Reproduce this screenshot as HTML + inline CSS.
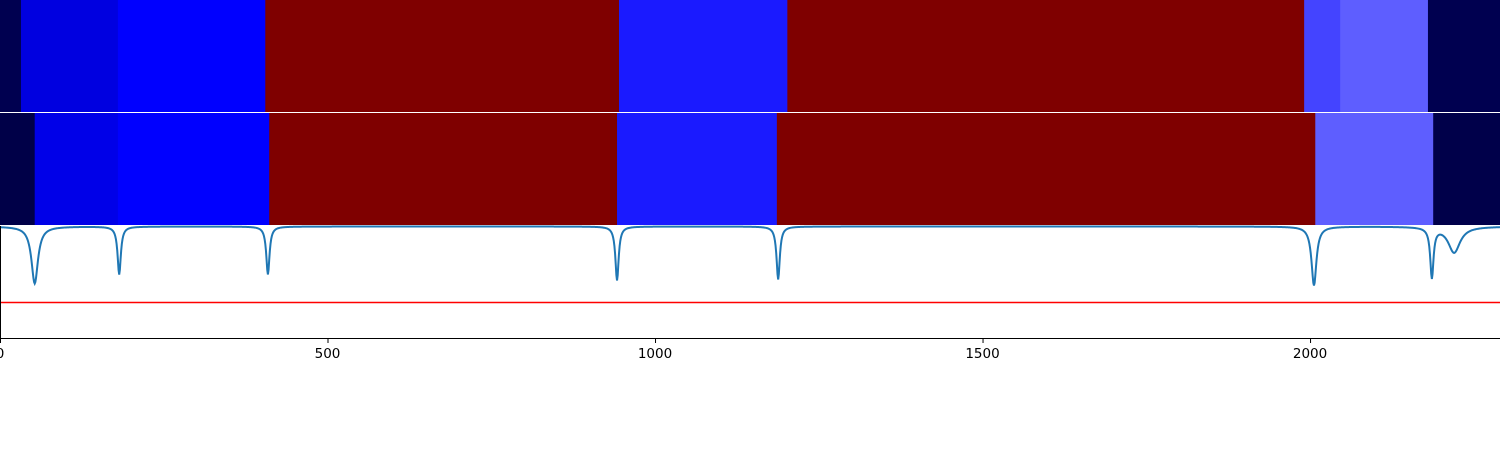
<!DOCTYPE html>
<html><head><meta charset="utf-8"><style>
body{margin:0;background:#fff;width:1500px;height:450px;overflow:hidden}
svg{display:block;font-family:"DejaVu Sans","Liberation Sans",sans-serif}
</style></head><body>
<svg id="chart" width="1500" height="450"></svg>
<script>
const xTicks=[0,500,1000,1500,2000];
const row1Edges=[0,32,180,405,945,1202,1991,2046,2180,2290];
const row1Colors=["#000050","#0000e0","#0000ff","#7f0000","#1a1aff","#7f0000","#4444ff","#5e5eff","#000050"];
const row2Edges=[0,53,180,411,942,1186,2008,2188,2290];
const row2Colors=["#000048","#0000e8","#0000ff","#7f0000","#1a1aff","#7f0000","#5e5eff","#00004a"];
const peakCenters=[53,182,409,942,1188,2006,2186,2220];
const peakDepths=[0.57,0.48,0.48,0.54,0.53,0.59,0.50,0.26];
const peakWidths=[6,3,3,3,3,4.5,3,11];
const threshold=-0.76;
const NS="http://www.w3.org/2000/svg";
const svg=document.getElementById('chart');
const X0=0,X1=1500,D1=2290;
const xs=v=>X0+v*(X1-X0)/D1;
const ys=v=>226.5-v*100;
function el(t,a,p){const e=document.createElementNS(NS,t);for(const k in a)e.setAttribute(k,a[k]);(p||svg).appendChild(e);return e;}
function row(edges,colors,y,h,name){
  const g=el('g',{});
  
  
  for(let i=0;i<colors.length;i++){
    const r=el('rect',{x:xs(edges[i]),y:y,width:xs(edges[i+1])-xs(edges[i])+0.5,height:h,fill:colors[i]},g);
    
    
  }
}
row(row1Edges,row1Colors,0,112,'heatmap-row-1');
row(row2Edges,row2Colors,113,112,'heatmap-row-2');
let pts=[];
for(let x=0;x<=D1;x+=1){
  let v=0;
  for(let i=0;i<peakCenters.length;i++){const d=(x-peakCenters[i])/peakWidths[i];v-=peakDepths[i]/(1+d*d);}
  pts.push(xs(x).toFixed(2)+','+Math.min(ys(v),337).toFixed(2));
}
const line=el('polyline',{points:pts.join(' '),fill:'none',stroke:'#1f77b4','stroke-width':2});


const th=el('line',{x1:0,x2:1500,y1:ys(threshold),y2:ys(threshold),stroke:'#ff0000','stroke-width':1.5});


const ax=el('path',{d:'M0.5,226 V338.5 H1500',fill:'none',stroke:'#000','stroke-width':1});


xTicks.forEach(t=>{
  const tk=el('line',{x1:xs(t)+0.5,x2:xs(t)+0.5,y1:338,y2:343,stroke:'#000','stroke-width':1});
  
  
  const lb=el('text',{x:xs(t),y:358,'text-anchor':'middle','font-size':13.5,fill:'#000'});
  lb.textContent=t;
  
  
});
</script>
</body></html>
